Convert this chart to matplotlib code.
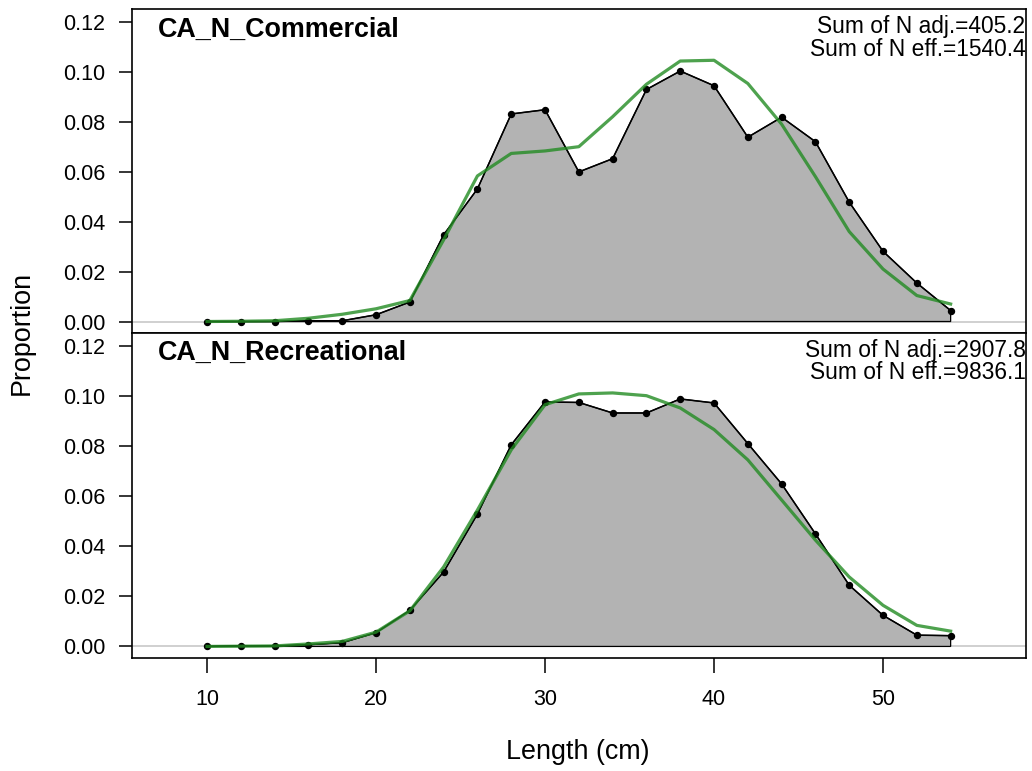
import numpy as np
import matplotlib
matplotlib.use("Agg")
import matplotlib.pyplot as plt

plt.rcParams['font.family'] = ['Liberation Sans', 'DejaVu Sans']

# length bins (cm)
lengths = np.arange(10, 56, 2)

fleets = ["CA_N_Commercial", "CA_N_Recreational"]

obs_comm = [0.0, 0.0, 0.0, 0.0003, 0.0003, 0.0027, 0.0078, 0.0347, 0.0531,
            0.0831, 0.0848, 0.0599, 0.0652, 0.0929, 0.1003, 0.0944, 0.0738,
            0.0818, 0.0720, 0.0478, 0.0281, 0.0154, 0.0044]
exp_comm = [0.0, 0.0001, 0.0003, 0.0013, 0.0029, 0.0051, 0.0084, 0.0327,
            0.0583, 0.0673, 0.0683, 0.0700, 0.0820, 0.0950, 0.1043, 0.1046,
            0.0953, 0.0790, 0.0580, 0.0360, 0.0210, 0.0104, 0.0070]

obs_rec = [0.0, 0.0003, 0.0002, 0.0007, 0.0015, 0.0055, 0.0144, 0.0297,
           0.0528, 0.0804, 0.0975, 0.0973, 0.0931, 0.0931, 0.0987, 0.0971,
           0.0809, 0.0648, 0.0449, 0.0244, 0.0124, 0.0045, 0.0043]
exp_rec = [0.0, 0.0001, 0.0002, 0.0010, 0.0020, 0.0057, 0.0142, 0.0317,
           0.0544, 0.0784, 0.0964, 0.1007, 0.1011, 0.1000, 0.0951, 0.0865,
           0.0744, 0.0584, 0.0424, 0.0277, 0.0164, 0.0084, 0.0061]

n_adj = ["405.2", "2907.8"]
n_eff = ["1540.4", "9836.1"]

observed = [obs_comm, obs_rec]
expected = [exp_comm, exp_rec]

fig = plt.figure(figsize=(10.32, 7.71), dpi=100)
left, right = 0.1279, 0.9942
tops = [0.9879, 0.5681]
bottoms = [0.5681, 0.1466]

yticks = np.arange(0, 0.121, 0.02)
for i in range(2):
    ax = fig.add_axes([left, bottoms[i], right - left, tops[i] - bottoms[i]])
    obs = np.array(observed[i])
    ax.axhline(0, color="#c8c8c8", lw=1.2, zorder=1)
    px = np.concatenate([lengths, [lengths[-1], lengths[0]]])
    py = np.concatenate([obs, [0, 0]])
    ax.fill(px, py, facecolor="#b3b3b3", edgecolor="black", lw=0.9, zorder=2)
    ax.plot(lengths, obs, color="black", lw=1.1, marker="o", ms=4.3, zorder=3)
    ax.plot(lengths, expected[i], color="#228B22", alpha=0.8, lw=2.3, zorder=4)

    ax.set_xlim(5.56, 58.46)
    ax.set_ylim(-0.0046, 0.125)
    ax.set_yticks(yticks)
    ax.set_yticklabels(["%.2f" % v for v in yticks])
    ax.tick_params(axis="y", direction="out", length=9.5, width=1.1,
                   labelsize=15.5, pad=9.5)
    if i == 1:
        ax.set_xticks([10, 20, 30, 40, 50])
        ax.tick_params(axis="x", direction="out", length=11, width=1.1,
                       labelsize=15.5, pad=11)
    else:
        ax.set_xticks([])
    for s in ax.spines.values():
        s.set_linewidth(1.2)

    ax.text(0.029, 0.978, fleets[i], transform=ax.transAxes, fontsize=19.4,
            fontweight="bold", ha="left", va="top")
    ax.text(0.9995, 0.982, "Sum of N adj.=%s\nSum of N eff.=%s" % (n_adj[i], n_eff[i]),
            transform=ax.transAxes, fontsize=16.4, ha="right", va="top",
            linespacing=0.97)

fig.text(0.021, 0.5681, "Proportion", rotation=90, fontsize=19.4,
         ha="center", va="center")
fig.text(0.56, 0.0246, "Length (cm)", fontsize=19.4, ha="center", va="center")

fig.savefig("out.png", dpi=100)
